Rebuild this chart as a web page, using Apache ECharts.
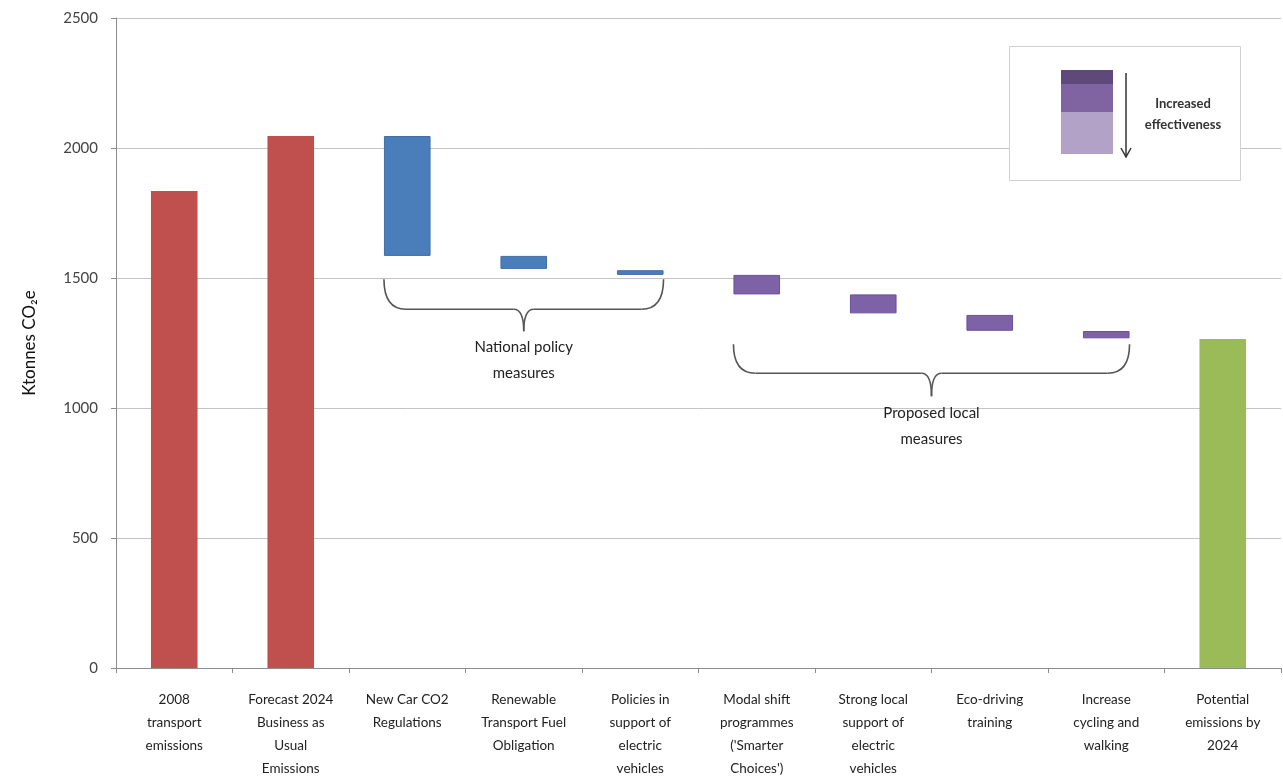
<!DOCTYPE html>
<html>
<head>
<meta charset="utf-8">
<script src="https://cdn.jsdelivr.net/npm/echarts@6/dist/echarts.min.js"></script>
<style>
html,body{margin:0;padding:0;background:#fff;}
#c{width:1283px;height:784px;}
</style>
</head>
<body>
<div id="c"></div>
<script>
const categories = [
  "2008\ntransport\nemissions",
  "Forecast 2024\nBusiness as\nUsual\nEmissions",
  "New Car CO2\nRegulations",
  "Renewable\nTransport Fuel\nObligation",
  "Policies in\nsupport of\nelectric\nvehicles",
  "Modal shift\nprogrammes\n('Smarter\nChoices')",
  "Strong local\nsupport of\nelectric\nvehicles",
  "Eco-driving\ntraining",
  "Increase\ncycling and\nwalking",
  "Potential\nemissions by\n2024"
];
const totals = [1835, 2046, null, null, null, null, null, null, null, 1265];
const reductionTop = [null, null, 2046, 1585, 1530, 1512, 1437, 1358, 1296, null];
const reductionBottom = [null, null, 1585, 1535, 1512, 1437, 1364, 1297, 1268, null];
const yTicks = [0, 500, 1000, 1500, 2000, 2500];

const totalColors = ["#c0504d", "#c0504d", null, null, null, null, null, null, null, "#9bbb59"];
const nationalIdx = [2, 3, 4];
const localIdx = [5, 6, 7, 8];

const chart = echarts.init(document.getElementById('c'));
const FONT = 'Lato, "Open Sans", sans-serif';
const BAR_W = 0.40;

const baseData = reductionBottom.map(v => v);
const deltaData = reductionTop.map((t, i) => (t == null ? null : {
  value: t - reductionBottom[i],
  itemStyle: nationalIdx.includes(i)
    ? { color: "#4a7ebb", borderColor: "#3f6ea6", borderWidth: 1 }
    : { color: "#7e62a8", borderColor: "#6b4f96", borderWidth: 1 }
}));
const totalData = totals.map((v, i) => (v == null ? null : { value: v, itemStyle: { color: totalColors[i] } }));

chart.setOption({
  animation: false,
  backgroundColor: "#fff",
  grid: { left: 116, right: 2, top: 18, bottom: 116 },
  xAxis: {
    type: "category",
    data: categories,
    axisLine: { lineStyle: { color: "#8c8c8c", width: 1 } },
    axisTick: { show: true, length: 5, lineStyle: { color: "#8c8c8c" } },
    axisLabel: { interval: 0, color: "#222", fontFamily: FONT, fontSize: 13.5, lineHeight: 23, margin: 20 }
  },
  yAxis: {
    type: "value",
    min: 0, max: 2500, interval: 500,
    name: "Ktonnes CO₂e",
    nameLocation: "middle",
    nameRotate: 90,
    nameGap: 78,
    nameTextStyle: { fontFamily: FONT, fontSize: 17, color: "#111" },
    axisLine: { show: true, lineStyle: { color: "#8c8c8c" } },
    axisTick: { show: true, length: 5, lineStyle: { color: "#8c8c8c" } },
    axisLabel: { color: "#444", fontFamily: FONT, fontSize: 15, margin: 18,
      formatter: v => yTicks.includes(v) ? String(v) : "" },
    splitLine: { lineStyle: { color: "#c4c4c4", width: 1 } }
  },
  series: [
    { name: "totals", type: "bar", stack: "w", barWidth: (BAR_W * 100) + "%", data: totalData },
    { name: "base", type: "bar", stack: "w", barWidth: (BAR_W * 100) + "%", data: baseData,
      itemStyle: { color: "transparent" }, silent: true },
    { name: "reduction", type: "bar", stack: "w", barWidth: (BAR_W * 100) + "%", data: deltaData }
  ]
});

function brace(x1, x2, xm, yTop, yMid, yTip, style) {
  const rx = 22, tx = 10;
  return [
    { type: "bezierCurve", shape: { x1: x1, y1: yTop, cpx1: x1, cpy1: yMid, x2: x1 + rx, y2: yMid }, style: style },
    { type: "line", shape: { x1: x1 + rx, y1: yMid, x2: xm - tx, y2: yMid }, style: style },
    { type: "bezierCurve", shape: { x1: xm - tx, y1: yMid, cpx1: xm, cpy1: yMid, x2: xm, y2: yTip }, style: style },
    { type: "bezierCurve", shape: { x1: xm, y1: yTip, cpx1: xm, cpy1: yMid, x2: xm + tx, y2: yMid }, style: style },
    { type: "line", shape: { x1: xm + tx, y1: yMid, x2: x2 - rx, y2: yMid }, style: style },
    { type: "bezierCurve", shape: { x1: x2 - rx, y1: yMid, cpx1: x2, cpy1: yMid, x2: x2, y2: yTop }, style: style }
  ];
}

function buildGraphics() {
  const px = i => chart.convertToPixel({ xAxisIndex: 0 }, i);
  const py = v => chart.convertToPixel({ yAxisIndex: 0 }, v);
  const band = px(1) - px(0);
  const half = band * BAR_W / 2;

  const nx1 = px(nationalIdx[0]) - half, nx2 = px(nationalIdx[nationalIdx.length - 1]) + half;
  const nxm = (nx1 + nx2) / 2;
  const nTop = py(1495);
  const lx1 = px(localIdx[0]) - half, lx2 = px(localIdx[localIdx.length - 1]) + half;
  const lxm = (lx1 + lx2) / 2;
  const lTop = py(1245);

  const braceStyle = { stroke: "#555", lineWidth: 1.6, fill: null };
  const txtStyle = { fontFamily: FONT, fontSize: 15, fill: "#222", align: "center", lineHeight: 26 };

  const g = []
    .concat(brace(nx1, nx2, nxm, nTop, nTop + 30, nTop + 52, braceStyle))
    .concat([{ type: "text", x: nxm, y: nTop + 55, style: Object.assign({ text: "National policy\nmeasures" }, txtStyle) }])
    .concat(brace(lx1, lx2, lxm, lTop, lTop + 29, lTop + 52, braceStyle))
    .concat([{ type: "text", x: lxm, y: lTop + 56, style: Object.assign({ text: "Proposed local\nmeasures" }, txtStyle) }])
    .concat([
      { type: "rect", shape: { x: 1009.5, y: 46.5, width: 231, height: 134 }, style: { fill: "#fff", stroke: "#d0d0d0", lineWidth: 1 }, z: 10 },
      { type: "rect", shape: { x: 1061, y: 70, width: 52, height: 14 }, style: { fill: "#5f497a" }, z: 11 },
      { type: "rect", shape: { x: 1061, y: 84, width: 52, height: 28 }, style: { fill: "#8064a2" }, z: 11 },
      { type: "rect", shape: { x: 1061, y: 112, width: 52, height: 42 }, style: { fill: "#b3a2c7" }, z: 11 },
      { type: "line", shape: { x1: 1126, y1: 73, x2: 1126, y2: 157 }, style: { stroke: "#333", lineWidth: 1.5 }, z: 11 },
      { type: "polyline", shape: { points: [[1121, 148], [1126, 157], [1131, 148]] }, style: { stroke: "#333", lineWidth: 1.5, fill: null }, z: 11 },
      { type: "text", x: 1183, y: 93, style: { text: "Increased\neffectiveness", fontFamily: FONT, fontSize: 13, fontWeight: "bold", fill: "#333", align: "center", lineHeight: 21 }, z: 11 }
    ]);
  chart.setOption({ graphic: g });
}
buildGraphics();
</script>
</body>
</html>
